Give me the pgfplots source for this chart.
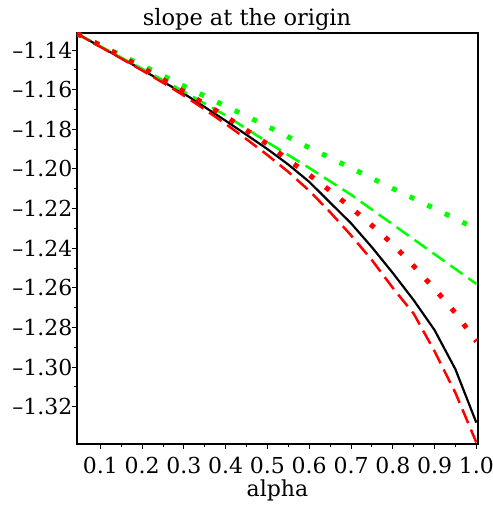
\documentclass[border=0pt]{standalone}
\usepackage{pgfplots}
\pgfplotsset{compat=1.18}
\usepackage{fontspec}
\setmainfont{DejaVu Serif}
\definecolor{mgreen}{RGB}{0,255,0}
\definecolor{mred}{RGB}{255,0,0}
\newcommand\myticksize{\fontsize{22}{26}\selectfont}
\begin{document}
\begin{tikzpicture}
\begin{axis}[
  scale only axis,
  width=401pt, height=411pt,
  xmin=0.044, xmax=1.004,
  ymin=-1.3388, ymax=-1.1314,
  axis line style={line width=1.1pt},
  tick style={line width=1pt, black},
  tick align=outside,
  tick pos=left,
  major tick length=5pt,
  minor tick length=2.5pt,
  xtick={0.1,0.2,0.3,0.4,0.5,0.6,0.7,0.8,0.9,1.0},
  xticklabels={0.1,0.2,0.3,0.4,0.5,0.6,0.7,0.8,0.9,1.0},
  ytick={-1.32,-1.30,-1.28,-1.26,-1.24,-1.22,-1.20,-1.18,-1.16,-1.14},
  yticklabels={–1.32,–1.30,–1.28,–1.26,–1.24,–1.22,–1.20,–1.18,–1.16,–1.14},
  minor x tick num=1,
  minor y tick num=1,
  tick label style={font=\myticksize},
  xticklabel style={anchor=base, yshift=-24pt},
  yticklabel style={anchor=east, xshift=4pt},
  title={slope at the origin},
  title style={font=\fontsize{22.5}{26}\selectfont, at={(0.424,1)}, anchor=base, yshift=1pt},
  xlabel={alpha},
  xlabel style={font=\fontsize{22}{26}\selectfont, at={(0.5,0)}, anchor=base, yshift=-52pt},
  clip=true,
]
% black solid
\addplot[black, line width=2.2pt] coordinates {
(0.044,-1.1317) (0.1,-1.1383) (0.15,-1.1441) (0.2,-1.1500) (0.25,-1.1560)
(0.3,-1.1620) (0.35,-1.1688) (0.4,-1.1757) (0.45,-1.1828) (0.5,-1.1900)
(0.55,-1.1978) (0.6,-1.2065) (0.65,-1.2170) (0.7,-1.2274) (0.75,-1.2395)
(0.8,-1.2525) (0.85,-1.2662) (0.9,-1.2813) (0.95,-1.3011) (1.0,-1.3280)};
% green dotted
\addplot[mgreen, line width=5pt, dash pattern=on 5pt off 14.5pt] coordinates {
(0.044,-1.1317) (0.1,-1.1376) (0.2,-1.1477) (0.3,-1.1582) (0.4,-1.1683)
(0.5,-1.1785) (0.6,-1.1893) (0.7,-1.1995) (0.8,-1.2099) (0.9,-1.2200) (1.0,-1.2303)};
% green dashed
\addplot[mgreen, line width=2.5pt, dash pattern=on 15pt off 7pt] coordinates {
(0.044,-1.1317) (0.1,-1.1381) (0.2,-1.1495) (0.3,-1.1610) (0.4,-1.1730)
(0.5,-1.1865) (0.6,-1.1995) (0.7,-1.2130) (0.8,-1.2280) (0.9,-1.2430)
(0.95,-1.2505) (1.0,-1.2580)};
% red dotted
\addplot[mred, line width=5pt, dash pattern=on 5pt off 14.5pt] coordinates {
(0.044,-1.1317) (0.1,-1.1376) (0.15,-1.1432) (0.2,-1.1489) (0.25,-1.1549)
(0.3,-1.1610) (0.35,-1.1672) (0.4,-1.1735) (0.45,-1.1805) (0.5,-1.1875)
(0.55,-1.1955) (0.6,-1.2030) (0.65,-1.2110) (0.7,-1.2195) (0.75,-1.2285)
(0.8,-1.2380) (0.85,-1.2490) (0.9,-1.2605) (0.95,-1.2727) (1.0,-1.2870)};
% red dashed
\addplot[mred, line width=2.5pt, dash pattern=on 15pt off 7pt] coordinates {
(0.044,-1.1317) (0.1,-1.1384) (0.15,-1.1443) (0.2,-1.1503) (0.25,-1.1565)
(0.3,-1.1630) (0.35,-1.1700) (0.4,-1.1773) (0.45,-1.1850) (0.5,-1.1930)
(0.55,-1.2015) (0.6,-1.2110) (0.65,-1.2218) (0.7,-1.2335) (0.75,-1.2460)
(0.8,-1.2600) (0.85,-1.2730) (0.9,-1.2920) (0.95,-1.3130) (1.0,-1.3380)};
\end{axis}
\pgfresetboundingbox
\path ([shift={(-77pt,-62pt)}]current axis.south west) rectangle ([shift={(15pt,33pt)}]current axis.north east);
\end{tikzpicture}
\end{document}
